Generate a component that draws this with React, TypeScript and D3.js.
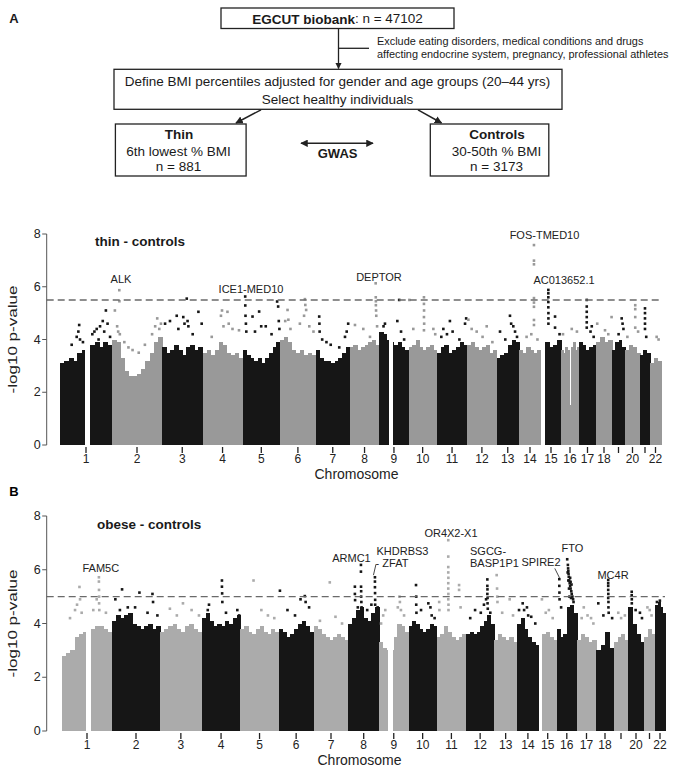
import React from 'react';
import * as d3 from 'd3';

// chromosome sizes (hg19, Mb) used to place points inside each chromosome
const CHROMOSOMES = ['1', '2', '3', '4', '5', '6', '7', '8', '9', '10', '11', '12', '13', '14', '15', '16', '17', '18', '19', '20', '21', '22'];
const CHROM_MB = [249.3, 243.2, 198.0, 191.2, 180.9, 171.1, 159.1, 146.4, 141.2, 135.5, 135.0, 133.9, 115.2, 107.3, 102.5, 90.4, 81.2, 78.1, 59.1, 63.0, 48.1, 51.3];
const CHROM_LABELS = ['1', '2', '3', '4', '5', '6', '7', '8', '9', '10', '11', '12', '13', '14', '15', '16', '17', '18', '', '20', '', '22'];
// regions without SNPs: [chromosome, start Mb, end Mb]
const GAPS: [number, number, number][] = [[1, 121, 143], [9, 45, 66], [15, 0, 20]];
const Y_TICKS = [0, 2, 4, 6, 8];

// ---- A: thin - controls ----
// relative plotted share of each chromosome (SNP count)
const THIN_SPANS = [52, 50, 40.5, 40.1, 37.4, 35.8, 33.9, 29.7, 29.1, 28.3, 30.5, 29.2, 22.5, 22, 20, 18, 17, 16, 13, 15, 10, 11];
// upper edge of the dense SNP cloud, evenly along each chromosome
const THIN_PROFILE = [
  [3.1, 3.2, 3.3, 3.2, 3.5, 3.6, 3.6, 3.8, 3.9, 3.7, 3.9, 3.8],
  [4.0, 3.9, 3.3, 2.8, 2.6, 2.6, 2.7, 2.9, 3.2, 3.5, 3.9, 4.1],
  [3.7, 3.5, 3.6, 3.8, 3.6, 3.4, 3.7, 3.8, 3.6, 3.7],
  [3.5, 3.6, 3.4, 3.6, 3.9, 3.8, 3.5, 3.4, 3.5, 3.3],
  [3.6, 3.4, 3.3, 3.2, 3.3, 3.1, 3.3, 3.5, 3.7, 3.9],
  [4.0, 4.1, 3.9, 3.6, 3.5, 3.6, 3.4, 3.5, 3.4],
  [3.6, 3.3, 3.2, 3.2, 3.1, 3.2, 3.3, 3.5, 3.7],
  [3.7, 3.8, 3.6, 3.7, 3.8, 3.9, 4.0, 3.8],
  [4.3, 4.2, 4.0, 3.9, 3.8, 3.9, 3.7, 3.6],
  [3.7, 3.8, 4.0, 3.7, 3.6, 3.7, 3.8, 3.6],
  [3.5, 3.7, 3.8, 3.5, 3.6, 3.7, 3.9, 3.8],
  [3.8, 3.9, 3.7, 3.6, 3.7, 3.8, 3.5, 3.6],
  [3.3, 3.4, 3.5, 3.8, 4.0, 3.9],
  [3.6, 3.5, 3.7, 3.6, 3.5, 3.6],
  [3.5, 3.9, 3.7, 3.8, 4.0],
  [3.6, 3.5, 3.7, 3.6, 1.5, 3.7, 3.9, 3.6, 3.7],
  [3.9, 3.8, 3.6, 3.7, 3.8],
  [3.9, 4.1, 3.9, 4.0],
  [3.6, 3.9, 4.0, 3.7],
  [3.6, 3.8, 3.7, 3.5],
  [3.4, 3.6, 3.5],
  [3.1, 3.3, 3.2],
];
// single SNPs standing out of the cloud: [chromosome, Mb, -log10 p]
const THIN_POINTS: [number, number, number][] = [
  [1, 56, 3.8], [1, 80, 4.1], [1, 88, 4.3], [1, 92, 4.55], [1, 96, 4.0], [1, 110, 3.9], [1, 155, 4.2], [1, 165, 4.3],
  [1, 176, 4.4], [1, 185, 4.0], [1, 192, 4.5], [1, 205, 4.7], [1, 212, 4.3], [1, 220, 5.1], [1, 228, 4.6], [1, 240, 4.1],
  [2, 14, 5.1], [2, 25, 4.5], [2, 30, 4.3], [2, 35.5, 5.87], [2, 36, 5.45], [2, 38, 4.2], [2, 60, 3.9], [2, 80, 3.7],
  [2, 100, 3.6], [2, 130, 3.5], [2, 160, 3.8], [2, 195, 4.2], [2, 210, 4.5], [2, 220, 4.8], [2, 230, 4.4], [2, 238, 4.6],
  [3, 15, 4.6], [3, 39, 4.7], [3, 72, 4.9], [3, 80, 4.4], [3, 104, 4.85], [3, 110, 4.6], [3, 121, 5.55], [3, 125, 4.7],
  [3, 129, 4.5], [3, 150, 4.2], [3, 178, 5.05], [3, 194, 4.6],
  [4, 44, 4.1], [4, 88, 4.9], [4, 93, 5.1], [4, 100, 4.5], [4, 119, 5.05], [4, 125, 4.6], [4, 143, 4.4], [4, 174, 4.35],
  [5, 12.6, 5.63], [5, 13, 5.29], [5, 14, 4.9], [5, 16, 4.6], [5, 18, 4.3], [5, 48, 4.87], [5, 60, 4.3], [5, 80, 5.06],
  [5, 90, 4.5], [5, 112, 4.5], [5, 140, 4.2], [5, 167, 5.44], [5, 172, 5.25], [5, 175, 4.7], [5, 178, 4.4],
  [6, 25, 4.7], [6, 36, 5.12], [6, 40, 4.75], [6, 50, 4.4], [6, 95, 4.6], [6, 115, 4.9], [6, 119, 5.53], [6, 121, 5.31],
  [6, 125, 5.12], [6, 140, 4.5], [6, 160, 4.3],
  [7, 16, 4.87], [7, 17, 4.6], [7, 18, 4.3], [7, 30, 4.0], [7, 50, 3.9], [7, 70, 3.8], [7, 110, 3.7], [7, 137, 4.1],
  [7, 145, 4.3], [7, 152, 4.6],
  [8, 26, 4.55], [8, 67, 4.4], [8, 100, 4.1], [8, 128, 6.13], [8, 128.5, 5.6], [8, 129, 5.45], [8, 129, 5.3], [8, 130, 5.1],
  [8, 131, 4.9], [8, 135, 4.5],
  [9, 20, 4.5], [9, 27, 4.6], [9, 87, 4.7], [9, 96, 5.5], [9, 105, 4.3], [9, 120, 4.0],
  [10, 4, 5.5], [10, 23, 4.4], [10, 74, 5.6], [10, 74, 5.35], [10, 74.5, 5.1], [10, 74, 4.85], [10, 75, 4.6], [10, 74, 4.35],
  [10, 119, 4.4], [10, 128, 4.2],
  [11, 20, 4.1], [11, 29, 4.4], [11, 45, 4.2], [11, 58, 4.7], [11, 70, 4.3], [11, 100, 4.0], [11, 125, 4.6], [11, 130, 4.8],
  [12, 5, 4.75], [12, 20, 4.4], [12, 43, 4.3], [12, 70, 4.1], [12, 89, 4.5], [12, 115, 3.9],
  [13, 18, 4.3], [13, 45, 4.0], [13, 69, 4.9], [13, 75, 4.6], [13, 86, 4.5], [13, 95, 4.3], [13, 105, 4.1],
  [14, 37, 4.1], [14, 60, 4.2], [14, 73, 7.58], [14, 73, 6.99], [14, 73, 6.85], [14, 73, 5.57], [14, 73, 5.4], [14, 73, 5.24],
  [14, 73, 4.74], [14, 73, 4.55], [14, 90, 4.0],
  [15, 37.6, 5.88], [15, 37.6, 5.75], [15, 37.6, 5.6], [15, 37.6, 5.42], [15, 37.6, 5.22], [15, 38, 5.0], [15, 38, 4.8],
  [15, 38, 4.6], [15, 72, 4.87], [15, 72, 4.45], [15, 95, 4.2],
  [16, 10, 4.2], [16, 54, 4.4], [16, 80, 4.3],
  [17, 37, 5.5], [17, 37, 5.25], [17, 37, 5.05], [17, 37, 4.85], [17, 37, 4.65], [17, 37, 4.45], [17, 55, 4.3], [17, 61, 4.5],
  [17, 70, 4.1],
  [18, 6, 4.6], [18, 44, 4.35], [18, 60, 4.2], [18, 76, 4.85],
  [19, 30, 4.2], [19, 44, 4.8], [19, 48, 4.6], [19, 52, 4.4],
  [20, 10, 4.1], [20, 43, 5.3], [20, 43, 5.15], [20, 43, 4.85], [20, 43, 4.45], [20, 55, 4.3],
  [21, 24, 5.18], [21, 24, 5.0], [21, 24, 4.8], [21, 24, 4.6], [21, 24, 4.4], [21, 30, 4.1],
  [22, 31, 4.1], [22, 40, 4.0],
];
// gene labels: [text, chromosome, Mb, -log10 p] of the label centre
const THIN_GENES: [string, number, number, number][] = [
  ['ALK', 2, 43.8, 6.29],
  ['ICE1-MED10', 5, 40.6, 5.91],
  ['DEPTOR', 8, 144.4, 6.37],
  ['FOS-TMED10', 15, 17.9, 7.96],
  ['AC013652.1', 16, 15.1, 6.26],
];
const THIN_THRESHOLD = 5.5;

// ---- B: obese - controls ----
const OBESE_SPANS = [50, 48, 41.7, 38.7, 38.3, 34.9, 34.8, 30.6, 29.5, 28.3, 29.2, 28.3, 22.7, 21.8, 17.8, 20.4, 19, 18, 14, 16, 11, 10];
const OBESE_PROFILE = [
  [2.8, 2.9, 3.0, 3.5, 3.6, 3.7, 3.6, 3.8, 3.9, 3.9, 3.8, 3.7],
  [4.1, 4.3, 4.2, 4.3, 4.4, 4.0, 3.9, 3.8, 3.9, 4.0, 3.8, 3.9],
  [3.7, 3.8, 3.9, 4.0, 3.8, 3.7, 3.9, 4.0, 3.8, 3.7],
  [4.2, 4.4, 4.1, 3.9, 4.0, 3.9, 4.1, 4.0, 4.2, 4.3],
  [3.8, 3.9, 3.7, 3.6, 3.8, 3.9, 3.7, 3.6, 3.8, 3.7],
  [3.8, 3.7, 3.5, 3.6, 3.8, 4.0, 4.1, 3.9, 3.7],
  [3.9, 3.8, 3.6, 3.5, 3.4, 3.5, 3.6, 3.5, 3.4],
  [4.0, 4.2, 4.5, 4.6, 4.2, 4.1, 4.4, 4.6],
  [3.3, 3.1, 3.0, 3.0, 3.5, 4.0, 3.9, 3.7],
  [3.9, 4.1, 4.0, 3.8, 3.7, 3.8, 4.0, 3.9],
  [3.5, 3.6, 3.9, 3.7, 3.5, 3.4, 3.5, 3.6],
  [3.6, 3.7, 3.6, 3.7, 3.9, 4.1, 4.3, 4.0],
  [3.4, 3.6, 3.5, 3.4, 3.5, 3.3],
  [4.0, 4.2, 3.8, 3.5, 3.3, 3.2],
  [3.4, 3.6, 3.7, 3.5, 3.4],
  [3.8, 3.5, 3.6, 4.6, 4.7, 4.4],
  [3.4, 3.6, 3.5, 3.3, 3.4],
  [3.0, 3.2, 3.7, 3.1],
  [3.3, 3.5, 3.6, 3.4],
  [4.6, 4.0, 3.6, 3.3],
  [3.5, 3.8, 3.6],
  [4.7, 4.8, 4.6, 4.4],
];
const OBESE_POINTS: [number, number, number][] = [
  [1, 40, 4.2], [1, 65, 4.5], [1, 75, 4.7], [1, 87, 5.36], [1, 90, 4.9], [1, 98, 4.4], [1, 156, 4.5], [1, 173, 4.9],
  [1, 184, 5.72], [1, 184, 5.56], [1, 184.5, 5.25], [1, 185, 5.0], [1, 185, 4.75], [1, 186, 4.5], [1, 219, 4.4],
  [2, 17, 4.9], [2, 40, 4.5], [2, 51, 5.27], [2, 80, 4.6], [2, 117, 4.6], [2, 139, 5.15], [2, 180, 4.4], [2, 205, 5.1],
  [2, 208, 4.8], [2, 230, 4.3],
  [3, 47, 4.55], [3, 80, 4.3], [3, 109, 4.75], [3, 150, 4.5], [3, 185, 4.3],
  [4, 30, 4.5], [4, 36, 4.7], [4, 100, 5.6], [4, 100, 5.37], [4, 101, 5.12], [4, 102, 4.8], [4, 120, 4.4], [4, 176, 4.5],
  [4, 185, 4.3],
  [5, 62, 5.6], [5, 99, 4.5], [5, 130, 4.3], [5, 160, 4.2],
  [6, 6, 5.22], [6, 43, 4.5], [6, 80, 4.3], [6, 107, 4.9], [6, 128, 5.02], [6, 132, 4.8], [6, 149, 4.6],
  [7, 29, 4.1], [7, 74, 5.53], [7, 100, 4.25], [7, 130, 4.0],
  [8, 31, 5.37], [8, 31, 5.1], [8, 32, 4.87], [8, 45, 4.6], [8, 60, 6.18], [8, 60, 5.93], [8, 60.5, 5.37], [8, 61, 5.2],
  [8, 61, 5.0], [8, 62, 4.8], [8, 63, 4.6], [8, 90, 4.5], [8, 110, 4.7], [8, 127, 5.72], [8, 127, 5.56], [8, 127, 5.35],
  [8, 127.5, 5.13], [8, 128, 4.88], [8, 128, 4.7], [8, 140, 4.6],
  [9, 10, 4.0], [9, 20, 4.3], [9, 30, 4.5], [9, 90, 4.6], [9, 98, 5.0], [9, 100, 4.8], [9, 105, 4.5], [9, 120, 4.3],
  [10, 36, 5.43], [10, 37, 5.0], [10, 37, 4.7], [10, 38, 4.4], [10, 60, 4.5], [10, 95, 4.75], [10, 105, 4.6], [10, 111, 4.3],
  [10, 125, 4.2],
  [11, 11, 4.8], [11, 12, 4.5], [11, 53, 7.1], [11, 53, 6.49], [11, 53, 6.1], [11, 53, 5.9], [11, 53.5, 5.7], [11, 53, 5.5],
  [11, 53, 5.3], [11, 53.5, 5.1], [11, 53, 4.9], [11, 54, 4.7], [11, 54, 4.5], [11, 103, 5.43], [11, 103, 5.25], [11, 110, 4.6],
  [12, 20, 4.2], [12, 43, 4.5], [12, 70, 4.4], [12, 85, 4.7], [12, 95, 4.9], [12, 101, 5.64], [12, 101, 5.4], [12, 101.5, 5.27],
  [12, 101, 5.1], [12, 102, 4.95], [12, 102, 4.75], [12, 103, 4.55], [12, 115, 4.4],
  [13, 12, 5.8], [13, 14, 5.3], [13, 15, 5.0], [13, 16, 4.8], [13, 40, 4.4], [13, 78, 4.9], [13, 95, 4.3],
  [14, 10, 4.5], [14, 28, 4.75], [14, 35, 4.5], [14, 49, 4.6], [14, 55, 4.3], [14, 70, 4.25], [14, 90, 4.0],
  [15, 18, 4.9], [15, 40, 4.4], [15, 58, 4.5], [15, 80, 4.2],
  [16, 12, 5.65], [16, 12, 5.4], [16, 12.5, 5.15], [16, 13, 4.9], [16, 20, 4.6], [16, 47, 6.39], [16, 49, 5.9], [16, 50, 6.18],
  [16, 51, 6.05], [16, 52, 5.95], [16, 52, 5.6], [16, 53, 5.85], [16, 54, 5.74], [16, 55, 5.3], [16, 56, 5.6], [16, 57, 5.0],
  [16, 58, 5.5], [16, 60, 5.4], [16, 60, 5.7], [16, 62, 5.3], [16, 62, 5.55], [16, 64, 4.95], [16, 65, 5.2], [16, 66, 5.45],
  [16, 67, 5.1], [16, 70, 5.0], [16, 73, 4.9], [16, 75, 4.8],
  [17, 20, 4.2], [17, 29, 4.6], [17, 45, 4.3], [17, 60, 4.2], [17, 70, 4.0],
  [18, 10, 4.75], [18, 32, 4.3], [18, 53, 5.62], [18, 53, 5.5], [18, 53, 5.4], [18, 53, 5.25], [18, 53.5, 5.1], [18, 53, 4.95],
  [18, 54, 4.8], [18, 54, 4.6], [18, 55, 4.4], [18, 70, 4.2],
  [19, 18, 4.4], [19, 30, 4.2], [19, 46, 4.3],
  [20, 14.6, 5.18], [20, 14.6, 5.05], [20, 15, 4.9], [20, 15, 4.75], [20, 30, 4.5], [20, 47, 4.4], [20, 55, 4.2],
  [21, 15, 4.6], [21, 25, 4.5], [21, 33, 4.3],
  [22, 10, 4.8], [22, 25, 4.85],
];
const OBESE_GENES: [string, number, number, number][] = [
  ['FAM5C', 1, 193.5, 6.07],
  ['ARMC1', 8, 14.8, 6.44],
  ['KHDRBS3', 9, 112.5, 6.7],
  ['- ZFAT', 9, 62.2, 6.25],
  ['OR4X2-X1', 11, 65.6, 7.37],
  ['SPIRE2', 15, 12.7, 6.29],
  ['FTO', 16, 70.5, 6.81],
  ['MC4R', 18, 73.8, 5.8],
];
// left-aligned two-line label
const OBESE_STACKED: [string, number, number, number][] = [
  ['SGCG-', 12, 18.9, 6.7],
  ['BASP1P1', 12, 18.9, 6.25],
];
const OBESE_THRESHOLD = 5.0;

const FONT = '"Liberation Sans", Arial, Helvetica, sans-serif';
const DARK = '#161616';

interface PanelProps {
  letter: string;
  title: string;
  spans: number[];
  profile: number[][];
  points: [number, number, number][];
  genes: [string, number, number, number][];
  threshold: number;
  oddDark: boolean;
  grey: string;
  left: number;
  right: number;
  top: number;
  bottom: number;
  letterY: number;
  children?: (pos: (c: number, mb: number) => number, y: d3.ScaleLinear<number, number>) => React.ReactNode;
}

const Manhattan: React.FC<PanelProps> = (p) => {
  const starts = Array.from(d3.cumsum([0, ...p.spans]));
  const x = d3.scaleLinear().domain([0, d3.sum(p.spans)]).range([p.left, p.right]);
  const y = d3.scaleLinear().domain([0, 8]).range([p.bottom, p.top]);
  const pos = (c: number, mb: number) => x(starts[c - 1] + (mb / CHROM_MB[c - 1]) * p.spans[c - 1]);
  const colour = (c: number) => ((c % 2 === 1) === p.oddDark ? DARK : p.grey);
  const axisX = 46.7;

  return (
    <g fontFamily={FONT}>
      <text x={14} y={p.letterY} fontSize={13} fontWeight="bold" textAnchor="middle" dominantBaseline="central">{p.letter}</text>

      {/* dense SNP cloud */}
      <g shapeRendering="crispEdges">
        {p.profile.map((vals, ci) =>
          vals.map((v, i) => {
            const x0 = x(starts[ci] + (i / vals.length) * p.spans[ci]);
            const x1 = x(starts[ci] + ((i + 1) / vals.length) * p.spans[ci]);
            return <rect key={`${ci}-${i}`} x={x0} y={y(v)} width={x1 - x0 + 0.5} height={y(0) - y(v)} fill={colour(ci + 1)} />;
          })
        )}
        {GAPS.map(([c, s, e]) => (
          <rect key={`gap${c}`} x={pos(c, s)} y={y(8)} width={pos(c, e) - pos(c, s)} height={y(0) - y(8)} fill="#fff" />
        ))}
      </g>

      {/* outlying SNPs */}
      {p.points.map(([c, mb, v], i) => (
        <rect key={`p${i}`} x={pos(c, mb) - 1.3} y={y(v) - 1.3} width={2.6} height={2.6} fill={colour(c)} />
      ))}

      {/* threshold */}
      <line x1={axisX} x2={p.right} y1={y(p.threshold)} y2={y(p.threshold)} stroke="#6a6a6a" strokeWidth={1.4} strokeDasharray="7,4" />

      {/* y axis */}
      <line x1={axisX} x2={axisX} y1={y(8)} y2={y(0)} stroke="#555" strokeWidth={1} />
      {Y_TICKS.map((t) => (
        <g key={t}>
          <line x1={axisX - 4.5} x2={axisX} y1={y(t)} y2={y(t)} stroke="#555" strokeWidth={1} />
          <text x={axisX - 6} y={y(t)} fontSize={12.5} textAnchor="end" dominantBaseline="central" fill="#222">{t}</text>
        </g>
      ))}
      <text transform={`translate(12,${(y(0) + y(8)) / 2}) rotate(-90)`} fontSize={13} textAnchor="middle"
        dominantBaseline="central" textLength={108} lengthAdjust="spacingAndGlyphs" fill="#222">-log10 p-value</text>

      {/* chromosome ticks */}
      {CHROMOSOMES.map((name, ci) => {
        const cx = x(starts[ci] + p.spans[ci] / 2);
        return (
          <g key={name}>
            <line x1={cx} x2={cx} y1={y(0) + 2} y2={y(0) + 8} stroke="#222" strokeWidth={1.3} />
            <text x={cx} y={y(0) + 14} fontSize={12} textAnchor="middle" dominantBaseline="central" fill="#222">{CHROM_LABELS[ci]}</text>
          </g>
        );
      })}
      <text x={(p.left + p.right) / 2 - 4} y={y(0) + 29} fontSize={14} textAnchor="middle" dominantBaseline="central" fill="#222">Chromosome</text>

      <text x={x(0) + 35} y={y(7.7)} fontSize={13.5} fontWeight="bold" dominantBaseline="central" fill="#1a1a1a">{p.title}</text>

      {p.genes.map(([g, c, mb, v]) => (
        <text key={g} x={pos(c, mb)} y={y(v)} fontSize={11} textAnchor="middle" dominantBaseline="central" fill="#222">{g}</text>
      ))}
      {p.children && p.children(pos, y)}
    </g>
  );
};

const Flowchart: React.FC = () => (
  <g fontFamily={FONT} fill="#1a1a1a">
    <defs>
      <marker id="head" viewBox="0 0 10 10" refX="9" refY="5" markerWidth="5" markerHeight="5" orient="auto-start-reverse">
        <path d="M0,0 L10,5 L0,10 z" fill="#222" />
      </marker>
    </defs>
    <text x={14} y={18} fontSize={13} fontWeight="bold" textAnchor="middle" dominantBaseline="central">A</text>

    <rect x={221} y={8} width={233} height={20.5} fill="none" stroke="#222" strokeWidth={1.3} />
    <text x={337.5} y={18.5} fontSize={13.5} textAnchor="middle" dominantBaseline="central">
      <tspan fontWeight="bold">EGCUT biobank</tspan>: n = 47102
    </text>

    <line x1={338.5} x2={338.5} y1={28.5} y2={68.5} stroke="#222" strokeWidth={1.3} markerEnd="url(#head)" />
    <line x1={338.5} x2={369} y1={48.3} y2={48.3} stroke="#222" strokeWidth={1.3} />
    <text x={377} y={40.7} fontSize={10.9} dominantBaseline="central">Exclude eating disorders, medical conditions and drugs</text>
    <text x={377} y={53.5} fontSize={10.9} dominantBaseline="central">affecting endocrine system, pregnancy, professional athletes</text>

    <rect x={114} y={69.3} width={448} height={40} fill="none" stroke="#222" strokeWidth={1.3} />
    <text x={337.5} y={81} fontSize={13.5} textAnchor="middle" dominantBaseline="central">Define BMI percentiles adjusted for gender and age groups (20–44 yrs)</text>
    <text x={337.5} y={99} fontSize={13.5} textAnchor="middle" dominantBaseline="central">Select healthy individuals</text>

    <line x1={261} y1={109.8} x2={236} y2={123} stroke="#222" strokeWidth={1.5} markerEnd="url(#head)" />
    <line x1={418} y1={109.8} x2={441.5} y2={123} stroke="#222" strokeWidth={1.5} markerEnd="url(#head)" />

    <rect x={115.4} y={124} width={130.7} height={52} fill="none" stroke="#222" strokeWidth={1.3} />
    <text x={179} y={134} fontSize={13.5} fontWeight="bold" textAnchor="middle" dominantBaseline="central">Thin</text>
    <text x={178.5} y={151.7} fontSize={13.5} textAnchor="middle" dominantBaseline="central">6th lowest % BMI</text>
    <text x={178.5} y={166.7} fontSize={13.5} textAnchor="middle" dominantBaseline="central">n = 881</text>

    <rect x={430.3} y={124} width={118.5} height={52} fill="none" stroke="#222" strokeWidth={1.3} />
    <text x={497} y={134} fontSize={13.5} fontWeight="bold" textAnchor="middle" dominantBaseline="central">Controls</text>
    <text x={496.5} y={151.7} fontSize={13.5} textAnchor="middle" dominantBaseline="central">30-50th % BMI</text>
    <text x={496.5} y={166.7} fontSize={13.5} textAnchor="middle" dominantBaseline="central">n = 3173</text>

    <line x1={301} x2={373} y1={143.3} y2={143.3} stroke="#222" strokeWidth={1.5} markerStart="url(#head)" markerEnd="url(#head)" />
    <text x={337.6} y={153.5} fontSize={13} fontWeight="bold" textAnchor="middle" dominantBaseline="central">GWAS</text>
  </g>
);

export default function App() {
  return (
    <svg width={683} height={773} style={{ position: 'absolute', left: 0, top: 0, background: '#fff' }}>
      <Flowchart />
      <Manhattan letter="" title="thin - controls" spans={THIN_SPANS} profile={THIN_PROFILE} points={THIN_POINTS}
        genes={THIN_GENES} threshold={THIN_THRESHOLD} oddDark={true} grey="#999999"
        left={60} right={661} top={234} bottom={445} letterY={0} />
      <Manhattan letter="B" title="obese - controls" spans={OBESE_SPANS} profile={OBESE_PROFILE} points={OBESE_POINTS}
        genes={OBESE_GENES} threshold={OBESE_THRESHOLD} oddDark={false} grey="#ababab"
        left={62} right={665} top={516} bottom={731} letterY={491}>
        {(pos, y) => (
          <g>
            {OBESE_STACKED.map(([g, c, mb, v]) => (
              <text key={g} x={pos(c, mb)} y={y(v)} fontSize={11} dominantBaseline="central" fill="#222">{g}</text>
            ))}
            {/* leader lines to KHDRBS3-ZFAT and SPIRE2 */}
            <line x1={pos(8, 127) + 1} y1={y(6.2)} x2={pos(8, 127) - 1.5} y2={y(5.8)} stroke="#333" strokeWidth={0.9} />
            <line x1={pos(16, 12) - 4.5} y1={y(6.05)} x2={pos(16, 12) + 0.2} y2={y(5.7)} stroke="#333" strokeWidth={0.9} />
          </g>
        )}
      </Manhattan>
    </svg>
  );
}
